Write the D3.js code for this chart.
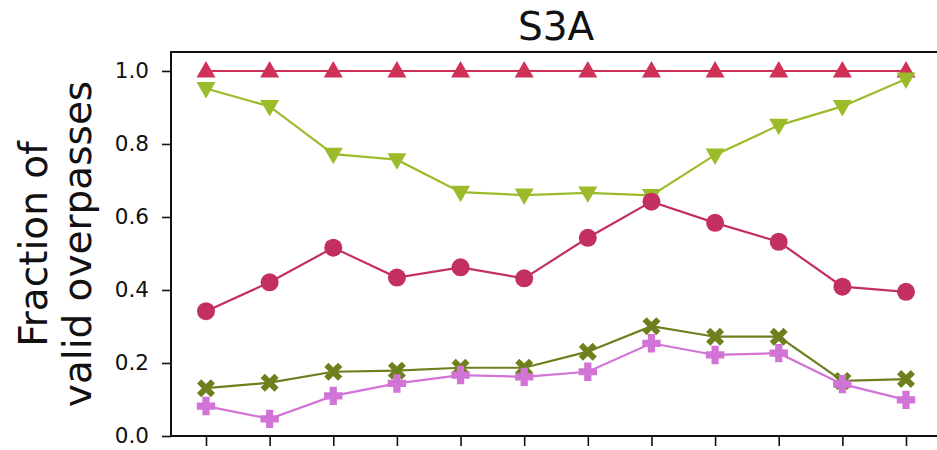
<!DOCTYPE html>
<html>
<head>
<meta charset="utf-8">
<script src="https://cdn.jsdelivr.net/npm/d3@7/dist/d3.min.js"></script>
<style>
  html, body { margin: 0; padding: 0; background: #ffffff; }
  svg { display: block; }
  text { font-family: "DejaVu Sans", sans-serif; fill: #111; }
</style>
</head>
<body>
<svg id="chart" width="937" height="450"></svg>
<script>
// Twelve periods along the x axis (ticks only, no labels)
const periods = ["1", "2", "3", "4", "5", "6", "7", "8", "9", "10", "11", "12"];

// Fraction of valid overpasses per series
const seriesTriUp   = [1.0, 1.0, 1.0, 1.0, 1.0, 1.0, 1.0, 1.0, 1.0, 1.0, 1.0, 1.0];
const seriesTriDown = [0.952, 0.903, 0.772, 0.757, 0.668, 0.660, 0.666, 0.659, 0.770, 0.851, 0.903, 0.978];
const seriesCircle  = [0.342, 0.421, 0.516, 0.434, 0.462, 0.432, 0.543, 0.642, 0.584, 0.532, 0.409, 0.395];
const seriesCross   = [0.131, 0.146, 0.176, 0.179, 0.187, 0.187, 0.231, 0.301, 0.272, 0.272, 0.151, 0.156];
const seriesPlus    = [0.082, 0.047, 0.110, 0.144, 0.167, 0.162, 0.176, 0.254, 0.222, 0.227, 0.142, 0.099];

const yTicks = [0.0, 0.2, 0.4, 0.6, 0.8, 1.0];
const titleText = "S3A";
const yLabelLines = ["Fraction of", "valid overpasses"];

const series = [
  { values: seriesTriUp,   color: "#cf3159", marker: "triUp" },
  { values: seriesTriDown, color: "#9bbb2b", marker: "triDown" },
  { values: seriesCircle,  color: "#c3305f", marker: "circle" },
  { values: seriesCross,   color: "#6e7f1d", marker: "xFilled" },
  { values: seriesPlus,    color: "#d273d6", marker: "plusFilled" }
];

const svg = d3.select("#chart");
const plotLeft = 171, plotRight = 941, plotTop = 52, plotBottom = 436;

const x = d3.scalePoint().domain(periods).range([plotLeft, plotRight]).padding(0.55);
const y = d3.scaleLinear().domain([0, 1.052]).range([plotBottom, plotTop]);

// Marker path builders (centered at 0,0)
function markerPath(type) {
  const p = d3.path();
  const poly = pts => {
    pts.forEach((pt, i) => i ? p.lineTo(pt[0], pt[1]) : p.moveTo(pt[0], pt[1]));
    p.closePath();
  };
  if (type === "triUp") {
    poly([[0, -10], [9.5, 6.5], [-9.5, 6.5]]);
  } else if (type === "triDown") {
    poly([[0, 10], [9.5, -6.5], [-9.5, -6.5]]);
  } else if (type === "circle") {
    p.arc(0, 0, 9, 0, 2 * Math.PI);
  } else if (type === "xFilled") {
    const a = 4.2, b = 9;
    poly([[0,-a],[b-a,-b],[b,-b+a],[a,0],[b,b-a],[b-a,b],[0,a],[-b+a,b],[-b,b-a],[-a,0],[-b,-b+a],[-b+a,-b]]);
  } else if (type === "plusFilled") {
    const a = 3.6, b = 9.2;
    poly([[-a,-b],[a,-b],[a,-a],[b,-a],[b,a],[a,a],[a,b],[-a,b],[-a,a],[-b,a],[-b,-a],[-a,-a]]);
  }
  return p.toString();
}

// Series lines and markers
const line = d3.line().x((d, i) => x(periods[i])).y(d => y(d));
series.forEach(s => {
  const g = svg.append("g");
  g.append("path")
    .attr("d", line(s.values))
    .attr("fill", "none")
    .attr("stroke", s.color)
    .attr("stroke-width", 2.2);
  g.selectAll("path.m")
    .data(s.values)
    .join("path")
    .attr("class", "m")
    .attr("d", markerPath(s.marker))
    .attr("transform", (d, i) => `translate(${x(periods[i])},${y(d)})`)
    .attr("fill", s.color);
});

// Axes
const yAxis = d3.axisLeft(y).tickValues(yTicks).tickFormat(d3.format(".1f"))
  .tickSize(9).tickPadding(13);
const gy = svg.append("g").attr("transform", `translate(${plotLeft},0)`).call(yAxis);
gy.select(".domain").remove();
gy.selectAll(".tick line").attr("stroke", "#111").attr("stroke-width", 1.6);
gy.selectAll(".tick text").style("font-size", "21.5px").style("font-family", "DejaVu Sans").attr("fill", "#111");

const xAxis = d3.axisBottom(x).tickSize(10).tickFormat("");
const gx = svg.append("g").attr("transform", `translate(0,${plotBottom})`).call(xAxis);
gx.select(".domain").remove();
gx.selectAll(".tick line").attr("stroke", "#111").attr("stroke-width", 1.6);

// Frame (spines)
svg.append("path")
  .attr("d", `M${plotRight},${plotTop}H${plotLeft}V${plotBottom}H${plotRight}`)
  .attr("fill", "none")
  .attr("stroke", "#111")
  .attr("stroke-width", 2);

// Title
svg.append("text")
  .attr("x", (plotLeft + plotRight) / 2)
  .attr("y", 40)
  .attr("text-anchor", "middle")
  .style("font-size", "39px")
  .text(titleText);

// Y axis label (two lines, rotated)
const yl = svg.append("text")
  .attr("transform", `translate(47,${(plotTop + plotBottom) / 2}) rotate(-90)`)
  .attr("text-anchor", "middle")
  .style("font-size", "39px");
yLabelLines.forEach((t, i) => {
  yl.append("tspan").attr("x", 0).attr("dy", i ? 44 : 0).text(t);
});
</script>
</body>
</html>
